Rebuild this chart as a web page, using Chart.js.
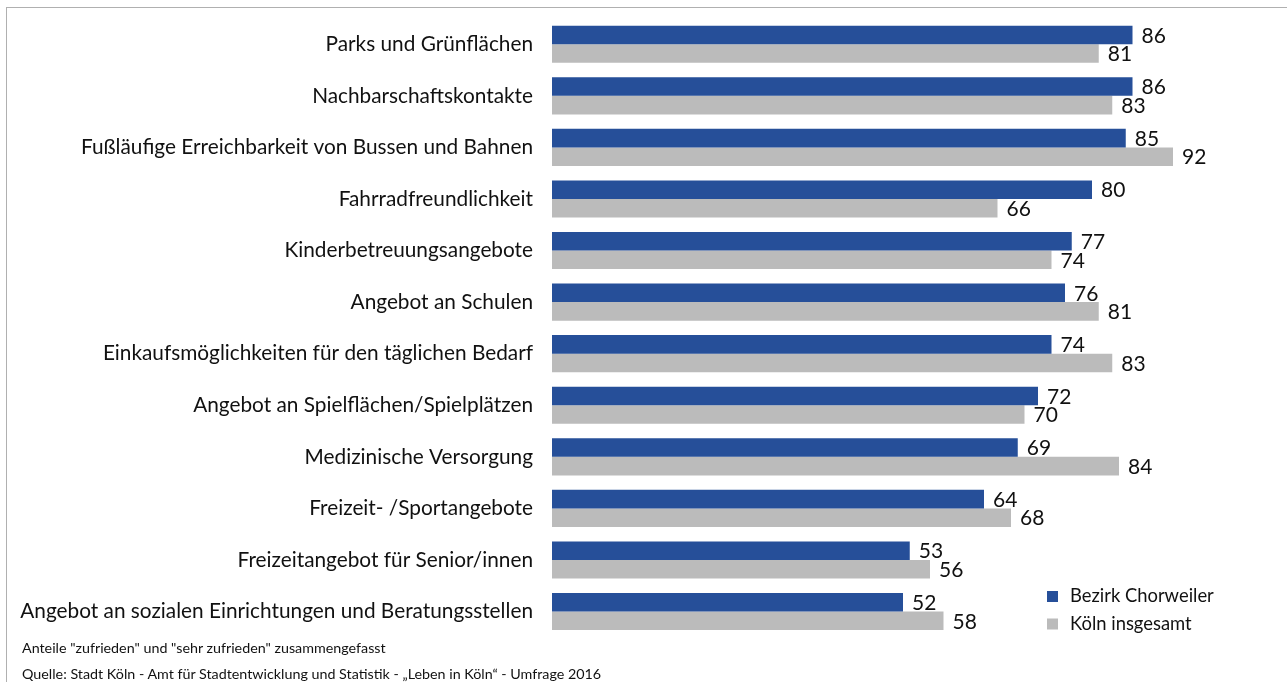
<!DOCTYPE html>
<html>
<head>
<meta charset="utf-8">
<script src="https://cdn.jsdelivr.net/npm/chart.js@4.4.1/dist/chart.umd.min.js"></script>
<style>
  html, body { margin: 0; padding: 0; background: #fff; }
  #wrap { position: relative; width: 1287px; height: 682px; overflow: hidden; }
  #rahmen { position: absolute; left: 6px; top: 7px; width: 1400px; height: 800px; border: 1px solid #b0b0b0; }
  canvas { position: absolute; left: 0; top: 0; }
  .fuss { position: absolute; left: 22px; font-family: "Lato", sans-serif; font-size: 14.3px; color: #111; white-space: nowrap; }
</style>
</head>
<body>
<div id="wrap">
  <div id="rahmen"></div>
  <canvas id="grafik" width="1287" height="682"></canvas>
  <div class="fuss" style="top:639px">Anteile "zufrieden" und "sehr zufrieden" zusammengefasst</div>
  <div class="fuss" style="top:665px">Quelle: Stadt Köln - Amt für Stadtentwicklung und Statistik - „Leben in Köln“ - Umfrage 2016</div>
</div>
<script>
const kategorien = [
  "Parks und Grünflächen",
  "Nachbarschaftskontakte",
  "Fußläufige Erreichbarkeit von Bussen und Bahnen",
  "Fahrradfreundlichkeit",
  "Kinderbetreuungsangebote",
  "Angebot an Schulen",
  "Einkaufsmöglichkeiten für den täglichen Bedarf",
  "Angebot an Spielflächen/Spielplätzen",
  "Medizinische Versorgung",
  "Freizeit- /Sportangebote",
  "Freizeitangebot für Senior/innen",
  "Angebot an sozialen Einrichtungen und Beratungsstellen"
];
const chorweiler = [86, 86, 85, 80, 77, 76, 74, 72, 69, 64, 53, 52];
const koeln = [81, 83, 92, 66, 74, 81, 83, 70, 84, 68, 56, 58];

const blau = "#264f99";
const grau = "#bbbbbb";

// Werte rechts neben die Balken schreiben
const wertePlugin = {
  id: "werte",
  afterDatasetsDraw(chart) {
    const ctx = chart.ctx;
    ctx.save();
    ctx.font = "21px Lato, sans-serif";
    ctx.fillStyle = "#111";
    ctx.textAlign = "left";
    ctx.textBaseline = "middle";
    chart.data.datasets.forEach((ds, i) => {
      chart.getDatasetMeta(i).data.forEach((bar, j) => {
        ctx.fillText(ds.data[j], bar.x + 9, bar.y + 1);
      });
    });
    ctx.restore();
  }
};

// eigene Legende unten rechts
const legendePlugin = {
  id: "legende",
  afterDraw(chart) {
    const ctx = chart.ctx;
    ctx.save();
    ctx.font = "18.4px Lato, sans-serif";
    ctx.textBaseline = "middle";
    chart.data.datasets.forEach((ds, i) => {
      const y = 596.5 + i * 27.5;
      ctx.fillStyle = ds.backgroundColor;
      ctx.fillRect(1047, y - 5.5, 11, 11);
      ctx.fillStyle = "#111";
      ctx.fillText(ds.label, 1070, y);
    });
    ctx.restore();
  }
};

new Chart(document.getElementById("grafik"), {
  type: "bar",
  data: {
    labels: kategorien,
    datasets: [
      { label: "Bezirk Chorweiler", data: chorweiler, backgroundColor: blau },
      { label: "Köln insgesamt", data: koeln, backgroundColor: grau }
    ]
  },
  options: {
    indexAxis: "y",
    responsive: false,
    animation: false,
    devicePixelRatio: 1,
    layout: { padding: { top: 18.5, bottom: 44.7, right: 60, left: 0 } },
    datasets: { bar: { categoryPercentage: 0.72, barPercentage: 1.0 } },
    scales: {
      x: { min: 0, max: 100, display: false },
      y: {
        afterFit(scale) {
          scale.width = 552;
          scale.paddingTop = 0;
          scale.paddingBottom = 0;
        },
        grid: { display: false, drawTicks: false },
        border: { display: false },
        ticks: {
          autoSkip: false,
          padding: 19,
          color: "#111",
          font: { family: "Lato, sans-serif", size: 20.8 }
        }
      }
    },
    plugins: { legend: { display: false }, tooltip: { enabled: false } }
  },
  plugins: [wertePlugin, legendePlugin]
});
</script>
</body>
</html>
